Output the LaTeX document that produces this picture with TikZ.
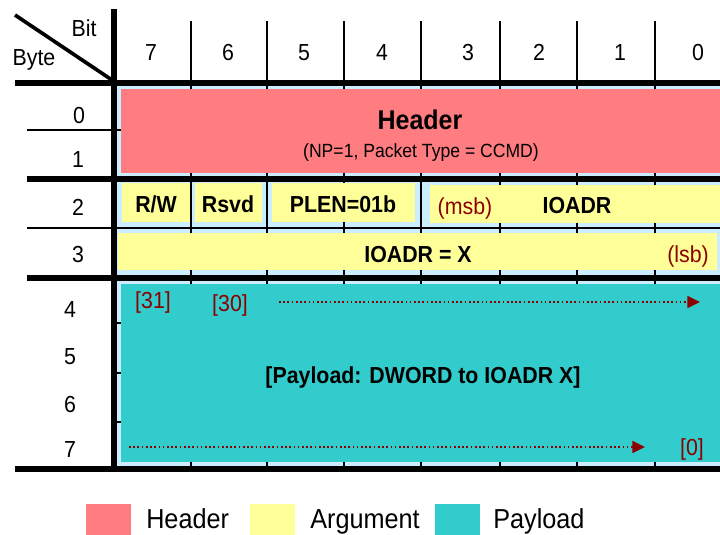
\documentclass[tikz,border=0pt]{standalone}
\usepackage{fontspec}
\setmainfont{Liberation Sans}[FakeStretch=0.92]
\usetikzlibrary{positioning, arrows.meta, fit}

\definecolor{hdrred}{HTML}{FF7C80}
\definecolor{argyellow}{HTML}{FFFF99}
\definecolor{paycyan}{HTML}{33CCCC}
\definecolor{gridblue}{HTML}{CCECFF}
\definecolor{bitred}{HTML}{8B0000}

\begin{document}
\begin{tikzpicture}[
    x=0.025cm, y=-0.025cm,
    num/.style={font=\fontsize{16.5}{18}\selectfont, anchor=base, inner sep=0pt},
    fld/.style={font=\bfseries\fontsize{16.5}{18}\selectfont, anchor=base, inner sep=0pt},
    note/.style={font=\fontsize{16.5}{18}\selectfont, text=bitred, anchor=base, inner sep=0pt},
    box/.style={fill=#1, draw=none, inner sep=0pt},
    thin rule/.style={line width=1.4pt, black},
    thick rule/.style={line width=3.6pt, black},
    bit flow/.style={line width=1.2pt, bitred, dash pattern=on 1.2pt off 1.8pt,
        -{Triangle[length=9pt, width=8.5pt]}},
    key text/.style={font=\fontsize{19.5}{21}\selectfont, anchor=base west, inner sep=0pt}
]

\useasboundingbox (0,0) rectangle (720,534);

% ------------------------------------------------------------------------------
% 1. FONDO Y REJILLA FINA
% ------------------------------------------------------------------------------
\node[box=gridblue, fit={(116,84) (726,467)}] (grid) {};

\foreach \x in {191,267,344,421,500,577,655} {
    \draw[thin rule] (\x,21) -- (\x,469);
}
\draw[thin rule] (27,130) -- (726,130);
\draw[thin rule] (27,228) -- (726,228);
\foreach \y in {323,373,422} {
    \draw[thin rule] (114,\y) -- (726,\y);
}

% ------------------------------------------------------------------------------
% 2. CAMPOS (cajas de color)
% ------------------------------------------------------------------------------
\node[box=hdrred, fit={(121,89) (726,173)}] (header) {};
\node[box=argyellow, fit={(122,183) (190,222)}] (rw) {};
\node[box=argyellow, fit={(195,183) (262,222)}] (rsvd) {};
\node[box=argyellow, fit={(272,183) (415,222)}] (plen) {};
\node[box=argyellow, fit={(430,185) (726,223)}] (ioadrhi) {};
\node[box=argyellow, fit={(118,233) (717,270)}] (ioadrlo) {};
\node[box=paycyan, fit={(121,284) (726,462)}] (payload) {};

% ------------------------------------------------------------------------------
% 3. LINEAS GRUESAS
% ------------------------------------------------------------------------------
\draw[thick rule] (15,83) -- (726,83);
\draw[thick rule] (27,179) -- (726,179);
\draw[thick rule] (27,278) -- (726,278);
\draw[thick rule] (15,469) -- (726,469);
\draw[thick rule] (114,9) -- (114,471);
\draw[line width=2.6pt] (15,15) -- (112,80);

% ------------------------------------------------------------------------------
% 4. CABECERAS (Bit / Byte)
% ------------------------------------------------------------------------------
\node[num] (bitlbl) at (84,36) {Bit};
\node[num] (bytelbl) at (34,65) {Byte};

\foreach \b/\x in {7/151, 6/228, 5/304, 4/382, 3/468, 2/539, 1/620, 0/698} {
    \node[num] (bit\b) at (\x,60) {\b};
}
\foreach \r/\x/\y in {0/79/123, 1/78/167, 2/78/215, 3/78/262,
                      4/70/317, 5/70/364, 6/70/412, 7/70/457} {
    \node[num] (byte\r) at (\x,\y) {\r};
}

% ------------------------------------------------------------------------------
% 5. TEXTOS DE LOS CAMPOS
% ------------------------------------------------------------------------------
\node[fld, font=\bfseries\fontsize{19.3}{21}\selectfont] (hdrtitle) at (420,129) {Header};
\node[num, font=\fontsize{13.6}{15}\selectfont] (hdrsub) at (421,157) {(NP=1, Packet Type = CCMD)};

\node[fld] (rwtxt) at (156,212) {R/W};
\node[fld] (rsvdtxt) at (228,212) {Rsvd};
\node[fld] (plentxt) at (343,212) {PLEN=01b};
\node[note] (msbtxt) at (465,214) {(msb)};
\node[fld] (ioadrhitxt) at (577,213) {IOADR};
\node[fld] (ioadrlotxt) at (418,262) {IOADR = X};
\node[note] (lsbtxt) at (688,262) {(lsb)};

\node[note] (b31) at (153,308) {[31]};
\node[note] (b30) at (230,311) {[30]};
\node[note] (b0) at (692,455) {[0]};
\node[fld] (paytxt) at (423,383) {[Payload: DWORD to IOADR X]};

\coordinate (topflow start) at (279,302);
\coordinate (topflow end) at (700,302);
\coordinate (lowflow start) at (129,447);
\coordinate (lowflow end) at (645,447);
\draw[bit flow] (topflow start) -- (topflow end);
\draw[bit flow] (lowflow start) -- (lowflow end);

% ------------------------------------------------------------------------------
% 6. LEYENDA
% ------------------------------------------------------------------------------
\node[box=hdrred, fit={(86,504) (131,540)}] (keyhdr) {};
\node[box=argyellow, fit={(250,504) (295,540)}] (keyarg) {};
\node[box=paycyan, fit={(435,504) (480,540)}] (keypay) {};
\node[key text] (keyhdrtxt) at (146,528) {Header};
\node[key text] (keyargtxt) at (310,528) {Argument};
\node[key text] (keypaytxt) at (493,528) {Payload};

\end{tikzpicture}
\end{document}
